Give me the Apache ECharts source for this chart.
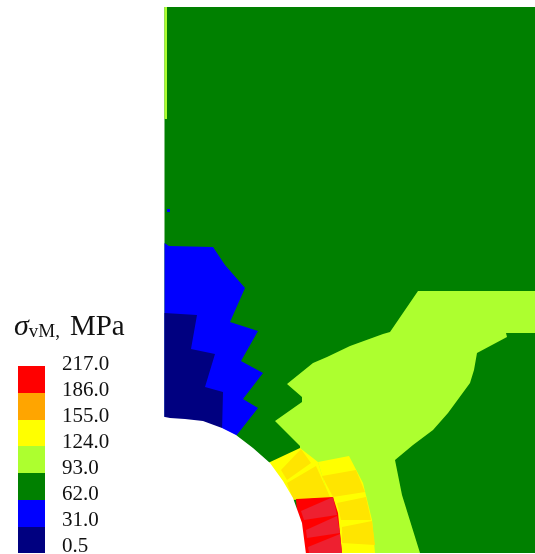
<!DOCTYPE html>
<html>
<head>
<meta charset="utf-8">
<title>von Mises stress contour</title>
<script src="https://cdn.jsdelivr.net/npm/echarts@6/dist/echarts.min.js"></script>
<style>
html, body { margin: 0; padding: 0; background: #fff; }
#chart { width: 535px; height: 554px; }
</style>
</head>
<body>
<div id="chart"></div>
<script>
// colour scale, top of the legend first
const levelLabels = ['217.0', '186.0', '155.0', '124.0', '93.0', '62.0', '31.0', '0.5'];
const levelColors = ['#ff0000', '#ffa500', '#ffff00', '#adff2f', '#008000', '#0000ff', '#000080'];
const legendEdges = [366, 393, 420, 446, 473, 500, 527, 553];
const legendSpan = [18, 45];

// contour outlines, in picture units
const plateOutline = [[164.5, 7], [535, 7], [535, 553], [164.5, 553]];
const edgeStrip = [[164.5, 7], [167, 7], [167, 119], [164.5, 119]];
const lightGreenOutline = [[418, 291], [535, 291], [535, 333], [506, 333], [507, 337], [477, 353], [474, 370], [470, 383], [448, 413], [433, 430], [413, 445], [395, 460], [402, 495], [420, 553], [340, 553], [300, 470], [300, 446], [275, 421], [302, 402], [302, 397], [287, 384], [313, 363], [327, 357], [350, 346], [383, 334], [390, 332]];
const blueOutline = [[164.5, 243], [169, 246], [213, 247], [225, 265], [245, 288], [230, 322], [258, 331], [241, 361], [263, 373], [243, 399], [258, 408], [236, 436], [164.5, 436]];
const blueSpeck = [[167, 209], [170, 209], [170, 212], [167, 212]];
const navyOutline = [[164.5, 313], [197, 315], [191, 349], [215, 354], [205, 387], [223, 392], [222, 432], [164.5, 432]];
const yellowInner = [[268, 463], [300, 448], [318, 462], [329, 498], [290, 500]];
const yellowOuter = [[318, 462], [349, 456], [363, 483], [372, 520], [375, 553], [340, 553], [329, 498]];
const redOutline = [[296, 499], [333, 497], [338, 513], [342, 553], [300, 553]];
const goldPatches = [
    [[281, 470], [301, 449], [311, 463], [287, 480]],
    [[287, 483], [316, 466], [330, 497], [293, 499]],
    [[322, 476], [356, 470], [365, 492], [333, 497]],
    [[337, 503], [366, 497], [371, 520], [341, 520]],
    [[342, 527], [372, 521], [375, 545], [342, 543]]
];
const darkRedPatches = [
    [[301, 511], [333, 497], [337, 515], [304, 520]],
    [[306, 530], [337, 516], [340, 533], [307, 538]],
    [[308, 547], [340, 534], [342, 553], [309, 553]]
];
const holeOutline = [[160, 416], [170, 418], [185, 419], [203, 421], [222, 428], [236, 435], [253, 448], [270, 463], [283, 481], [293, 498], [302, 523], [306, 554], [160, 554]];

const regions = [
    [plateOutline, levelColors[4]],
    [edgeStrip, levelColors[3]],
    [lightGreenOutline, levelColors[3]],
    [blueOutline, levelColors[5]],
    [blueSpeck, levelColors[5]],
    [navyOutline, levelColors[6]],
    [yellowInner, levelColors[2]],
    [yellowOuter, levelColors[2]],
    ...goldPatches.map(p => [p, '#ffe500']),
    [redOutline, levelColors[0]],
    ...darkRedPatches.map(p => [p, '#ee2030']),
    [holeOutline, '#ffffff']
];

const chart = echarts.init(document.getElementById('chart'));

function renderRegion(params, api) {
    const region = regions[params.dataIndex];
    return {
        type: 'polygon',
        shape: { points: region[0].map(p => api.coord(p)) },
        style: { fill: region[1] }
    };
}

function renderSwatch(params, api) {
    const i = params.dataIndex;
    const a = api.coord([legendSpan[0], legendEdges[i]]);
    const b = api.coord([legendSpan[1], legendEdges[i + 1]]);
    return {
        type: 'rect',
        shape: { x: a[0], y: a[1], width: b[0] - a[0], height: b[1] - a[1] },
        style: { fill: levelColors[i] }
    };
}

const serif = '"Liberation Serif", "Times New Roman", serif';

chart.setOption({
    animation: false,
    backgroundColor: '#fff',
    title: {
        left: 9,
        top: 307,
        text: '{s|σ}{sub|vM,}{t|MPa}',
        textStyle: {
            fontWeight: 'normal',
            rich: {
                s: { fontFamily: serif, fontStyle: 'italic', fontWeight: 'normal', fontSize: 30, color: '#111', verticalAlign: 'bottom' },
                sub: { fontFamily: serif, fontWeight: 'normal', fontSize: 19, color: '#111', verticalAlign: 'bottom' },
                t: { fontFamily: serif, fontWeight: 'normal', fontSize: 29, color: '#111', verticalAlign: 'bottom', padding: [0, 0, 0, 10] }
            }
        }
    },
    grid: [
        { left: 0, top: 0, width: 535, height: 554, outerBoundsMode: 'none' },
        { left: 18, top: 364, width: 27, height: 182, outerBoundsMode: 'none' }
    ],
    xAxis: [
        { type: 'value', gridIndex: 0, min: 0, max: 535, show: false },
        { type: 'value', gridIndex: 1, show: false }
    ],
    yAxis: [
        { type: 'value', gridIndex: 0, min: 0, max: 554, inverse: true, show: false },
        {
            type: 'category',
            gridIndex: 1,
            data: levelLabels,
            inverse: true,
            boundaryGap: false,
            position: 'right',
            axisLine: { show: false },
            axisTick: { show: false },
            axisLabel: {
                interval: 0,
                margin: 17,
                fontFamily: serif,
                fontSize: 21,
                color: '#111',
                align: 'left'
            }
        }
    ],
    series: [
        {
            type: 'custom',
            silent: true,
            renderItem: renderRegion,
            data: regions.map((r, i) => [i]),
            encode: { x: [], y: [] },
            clip: true
        },
        {
            type: 'custom',
            silent: true,
            renderItem: renderSwatch,
            data: levelColors.map((c, i) => [i]),
            encode: { x: [], y: [] }
        }
    ]
});
</script>
</body>
</html>
